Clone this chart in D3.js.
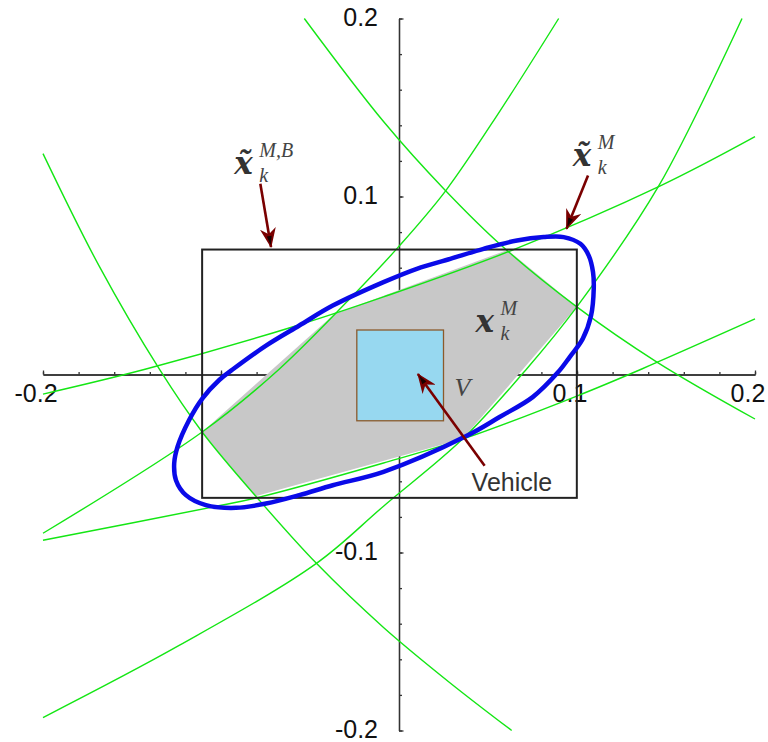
<!DOCTYPE html>
<html>
<head>
<meta charset="utf-8">
<title>Feasible region</title>
<script src="https://cdnjs.cloudflare.com/ajax/libs/d3/7.8.5/d3.min.js"></script>
<style>
  body { margin: 0; background: #fff; }
  svg { display: block; }
  .tlabel { font-family: "Liberation Sans", Arial, sans-serif; font-size: 25px; fill: #111; }
  .math { font-family: "DejaVu Serif", serif; fill: #333; }
  .mathsub { font-family: "Liberation Serif", serif; font-style: italic; fill: #444; }
</style>
</head>
<body>
<svg width="768" height="742"></svg>
<script>
var width = 768,
  height = 742

var xLabelTicks = [-0.2, 0.1, 0.2]
var yLabelTicks = [0.2, 0.1, -0.1, -0.2]
var majorTicks = [-0.2, -0.1, 0, 0.1, 0.2]

// the six bounding curves (green)
var curve1 = [[-0.2, 0.1241], [-0.1685, 0.0610], [-0.1347, 0.0031], [-0.1106, -0.0323], [-0.0785, -0.0706],
  [-0.0464, -0.1061], [-0.0087, -0.1421], [0.0284, -0.1730], [0.0633, -0.2]]
var curve2 = [[-0.0532, 0.2], [-0.0087, 0.1421], [0.0262, 0.1032], [0.0577, 0.0723], [0.0999, 0.0380],
  [0.1449, 0.0070], [0.2, -0.0250]]
var curve3 = [[0.0897, 0.2], [0.0565, 0.1477], [0.0262, 0.1032], [-0.0003, 0.0717], [-0.0239, 0.0464],
  [-0.0672, 0.0031], [-0.1106, -0.0323], [-0.2, -0.0892]]
var curve4 = [[0.1927, 0.2], [0.1460, 0.1061], [0.0999, 0.0380], [0.0717, 0.0031], [0.0357, -0.0363],
  [-0.0087, -0.0740], [-0.0464, -0.1061], [-0.1235, -0.1522], [-0.2, -0.1927]]
var curve5 = [[-0.2, -0.0110], [-0.1421, 0.0031], [-0.0599, 0.0267], [-0.0087, 0.0436], [0.0627, 0.0695],
  [0.1471, 0.1061], [0.2, 0.1336]]
var curve6 = [[-0.2, -0.0931], [-0.1049, -0.0745], [-0.0785, -0.0689], [-0.0087, -0.0497], [0.0357, -0.0363],
  [0.0999, -0.0121], [0.1364, 0.0031], [0.2, 0.0312]]
var boundaries = [curve1, curve2, curve3, curve4, curve5, curve6]

// feasible set (grey polygon)
var region = [[-0.1106, -0.0323], [-0.0807, -0.0684], [0.0357, -0.0363], [0.0999, 0.0380],
  [0.0610, 0.0700], [-0.0363, 0.0340]]

// box bound and vehicle
var boxX = [-0.1106, 0.0999], boxY = [-0.0693, 0.0702]
var vehicleX = [-0.0237, 0.0250], vehicleY = [-0.0260, 0.0250]

// outer bound (blue)
var outer = [[-0.0087, 0.0519], [0.0100, 0.0594], [0.0288, 0.0650], [0.0475, 0.0706], [0.0663, 0.0753],
  [0.0813, 0.0772], [0.0925, 0.0772], [0.1019, 0.0734], [0.1066, 0.0668], [0.1090, 0.0575],
  [0.1094, 0.0481], [0.1079, 0.0331], [0.1032, 0.0200], [0.0959, 0.0098], [0.0893, 0.0012],
  [0.0751, -0.0127], [0.0565, -0.0239], [0.0378, -0.0346], [-0.0087, -0.0547], [-0.0372, -0.0622],
  [-0.0560, -0.0678], [-0.0747, -0.0725], [-0.0916, -0.0749], [-0.1085, -0.0734], [-0.1197, -0.0678],
  [-0.1253, -0.0594], [-0.1263, -0.0500], [-0.1244, -0.0406], [-0.1179, -0.0256], [-0.1104, -0.0134],
  [-0.1010, -0.0031], [-0.0935, 0.0028], [-0.0747, 0.0162], [-0.0560, 0.0275], [-0.0372, 0.0387]]

// annotation arrows: [from, to]
var arrows = [
  [[-0.0779, 0.1072], [-0.0719, 0.0716]],
  [[0.1062, 0.1118], [0.0941, 0.0819]],
  [[0.0481, -0.0513], [0.0106, 0.0003]]
]

var x = d3.scaleLinear().domain([-0.2, 0.2]).range([43, 755])
var y = d3.scaleLinear().domain([-0.2, 0.2]).range([730.5, 18.5])

var svg = d3.select('svg')

var defs = svg.append('defs')
var head = defs.append('marker')
  .attr('id', 'head')
  .attr('viewBox', '0 0 20 16')
  .attr('refX', 19)
  .attr('refY', 8)
  .attr('markerWidth', 20)
  .attr('markerHeight', 16)
  .attr('markerUnits', 'userSpaceOnUse')
  .attr('orient', 'auto')
head.append('path')
  .attr('d', 'M0,0 L20,8 L0,16 L6,8 Z')
  .attr('fill', '#7a0000')
head.append('path')
  .attr('d', 'M8,5.5 L17,8 L8,10.5 Z')
  .attr('fill', '#1a0000')

// axes
var xMinor = d3.axisTop(x).tickValues(x.ticks(20)).tickSize(2.5).tickSizeOuter(0).tickFormat('')
var xMajor = d3.axisTop(x).tickValues(majorTicks).tickSize(4).tickSizeOuter(0).tickFormat('')
var yMinor = d3.axisRight(y).tickValues(y.ticks(20)).tickSize(3).tickSizeOuter(0).tickFormat('')
var yMajor = d3.axisRight(y).tickValues(majorTicks).tickSize(4.5).tickSizeOuter(0).tickFormat('')

var axes = svg.append('g').attr('color', '#333')
axes.append('g').attr('transform', 'translate(0,' + y(0) + ')').call(xMinor)
axes.append('g').attr('transform', 'translate(0,' + y(0) + ')').call(xMajor)
axes.append('g').attr('transform', 'translate(' + x(0) + ',0)').call(yMinor)
axes.append('g').attr('transform', 'translate(' + x(0) + ',0)').call(yMajor)
axes.selectAll('path, line').attr('stroke-width', 1.3)

svg.append('g')
  .selectAll('text')
  .data(xLabelTicks)
  .enter()
  .append('text')
  .attr('class', 'tlabel')
  .attr('text-anchor', 'middle')
  .attr('x', function(d) { return x(d) - 7 })
  .attr('y', y(0) + 27)
  .text(function(d) { return d3.format('.1f')(d).replace('−', '-') })

svg.append('g')
  .selectAll('text')
  .data(yLabelTicks)
  .enter()
  .append('text')
  .attr('class', 'tlabel')
  .attr('text-anchor', 'end')
  .attr('x', x(0) - 21)
  .attr('y', function(d) { return y(d) + 7 })
  .text(function(d) { return d3.format('.1f')(d).replace('−', '-') })

// feasible region
var poly = d3.line().x(function(d) { return x(d[0]) }).y(function(d) { return y(d[1]) })
svg.append('path')
  .attr('d', poly(region) + 'Z')
  .attr('fill', '#c8c8c8')

// green bounding curves
var smooth = d3.line()
  .x(function(d) { return x(d[0]) })
  .y(function(d) { return y(d[1]) })
  .curve(d3.curveCatmullRom)

svg.append('g')
  .selectAll('path')
  .data(boundaries)
  .enter()
  .append('path')
  .attr('d', smooth)
  .attr('fill', 'none')
  .attr('stroke', '#14e614')
  .attr('stroke-width', 1.4)

// vehicle
svg.append('rect')
  .attr('x', x(vehicleX[0]))
  .attr('y', y(vehicleY[1]))
  .attr('width', x(vehicleX[1]) - x(vehicleX[0]))
  .attr('height', y(vehicleY[0]) - y(vehicleY[1]))
  .attr('fill', '#97d8f0')
  .attr('stroke', '#8b5a2b')
  .attr('stroke-width', 1.3)

// box bound
svg.append('rect')
  .attr('x', x(boxX[0]))
  .attr('y', y(boxY[1]))
  .attr('width', x(boxX[1]) - x(boxX[0]))
  .attr('height', y(boxY[0]) - y(boxY[1]))
  .attr('fill', 'none')
  .attr('stroke', '#222')
  .attr('stroke-width', 2)

// outer bound
svg.append('path')
  .attr('d', d3.line()
    .x(function(d) { return x(d[0]) })
    .y(function(d) { return y(d[1]) })
    .curve(d3.curveCatmullRomClosed)(outer))
  .attr('fill', 'none')
  .attr('stroke', '#0a0ae8')
  .attr('stroke-width', 4.5)

// arrows
svg.append('g')
  .selectAll('line')
  .data(arrows)
  .enter()
  .append('line')
  .attr('x1', function(d) { return x(d[0][0]) })
  .attr('y1', function(d) { return y(d[0][1]) })
  .attr('x2', function(d) { return x(d[1][0]) })
  .attr('y2', function(d) { return y(d[1][1]) })
  .attr('stroke', '#7a0000')
  .attr('stroke-width', 2.6)
  .attr('marker-end', 'url(#head)')

// math labels
function mathLabel(px, py, sup, tilde) {
  var g = svg.append('g').attr('transform', 'translate(' + x(px) + ',' + y(py) + ')')
  g.append('text')
    .attr('class', 'math')
    .attr('font-size', 31)
    .attr('font-weight', 'bold')
    .attr('font-style', 'italic')
    .attr('x', 0)
    .attr('y', 0)
    .text(tilde ? 'x\u0303' : 'x')
  g.append('text')
    .attr('class', 'mathsub')
    .attr('font-size', 20)
    .attr('x', 25)
    .attr('y', -17)
    .text(sup)
  g.append('text')
    .attr('class', 'mathsub')
    .attr('font-size', 20)
    .attr('x', 25)
    .attr('y', 8)
    .text('k')
}

mathLabel(-0.0925, 0.1128, 'M,B', true)
mathLabel(0.0976, 0.1173, 'M', true)
mathLabel(0.0430, 0.0239, 'M', false)

svg.append('text')
  .attr('class', 'mathsub')
  .attr('font-size', 26)
  .attr('x', x(0.0312))
  .attr('y', y(-0.0121))
  .text('V')

svg.append('text')
  .attr('font-family', '"Liberation Sans", Arial, sans-serif')
  .attr('font-size', 25)
  .attr('fill', '#333')
  .attr('x', x(0.0408))
  .attr('y', y(-0.0655))
  .text('Vehicle')
</script>
</body>
</html>
